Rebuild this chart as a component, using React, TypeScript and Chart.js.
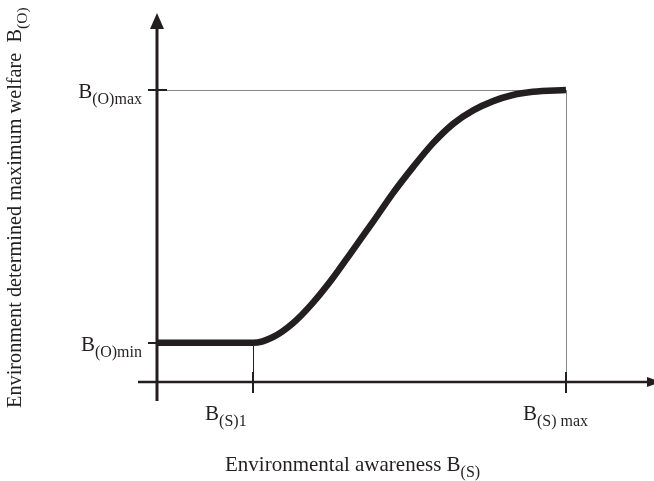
import React, { useEffect, useRef } from 'react';
import { Chart, registerables } from 'chart.js';

Chart.register(...registerables);

// ---- data (abstract units: B(S)max = 10, B(O)max = 10) ----
const curveX = [0, 2.35, 2.84, 3.33, 3.81, 4.3, 4.79, 5.28, 5.77, 6.26, 6.75, 7.24, 7.73, 8.22, 8.7, 9.19, 10];
const curveY = [1.34, 1.34, 1.54, 2.02, 2.71, 3.56, 4.52, 5.48, 6.47, 7.36, 8.18, 8.84, 9.3, 9.62, 9.83, 9.94, 10];

const xTickValues = [2.35, 10];
const xTickMain = ['B', 'B'];
const xTickSub = ['(S)1', '(S) max'];

const yTickValues = [1.34, 10];
const yTickMain = ['B', 'B'];
const yTickSub = ['(O)min', '(O)max'];

const xTitleMain = 'Environmental awareness B';
const xTitleSub = '(S)';
const yTitleMain = 'Environment determined maximum welfare  B';
const yTitleSub = '(O)';

// ---- styling / layout ----
const INK = '#231f20';
const GUIDE = '#858585';
const SERIF = '"Liberation Serif", "Times New Roman", serif';
const xTickLabelDx = [-48, -43];

function drawSub(
  ctx: CanvasRenderingContext2D,
  x: number,
  y: number,
  main: string,
  sub: string,
  align: 'left' | 'right',
  mainSize = 21,
  subSize = 16,
  drop = 6
) {
  const mf = `${mainSize}px ${SERIF}`;
  const sf = `${subSize}px ${SERIF}`;
  ctx.font = mf;
  const w1 = ctx.measureText(main).width;
  ctx.font = sf;
  const w2 = ctx.measureText(sub).width;
  const sx = align === 'right' ? x - w1 - w2 : x;
  ctx.textAlign = 'left';
  ctx.textBaseline = 'alphabetic';
  ctx.fillStyle = INK;
  ctx.font = mf;
  ctx.fillText(main, sx, y);
  ctx.font = sf;
  ctx.fillText(sub, sx + w1, y + drop);
}

const px = (v: number) => Math.round(v) + 0.5;

const diagramPlugin = {
  id: 'diagram',
  beforeDatasetsDraw(chart: any) {
    const ctx: CanvasRenderingContext2D = chart.ctx;
    const xs = chart.scales.x;
    const ys = chart.scales.y;
    const ox = xs.getPixelForValue(0);
    const oy = ys.getPixelForValue(0);
    const W = chart.width;
    ctx.save();

    // guide lines
    const xMaxPx = xs.getPixelForValue(xTickValues[1]);
    const x1Px = xs.getPixelForValue(xTickValues[0]);
    const yMaxPx = ys.getPixelForValue(yTickValues[1]);
    const yMinPx = ys.getPixelForValue(yTickValues[0]);
    ctx.lineWidth = 1;
    ctx.strokeStyle = GUIDE;
    ctx.beginPath();
    ctx.moveTo(ox, px(yMaxPx));
    ctx.lineTo(xMaxPx, px(yMaxPx));
    ctx.moveTo(px(xMaxPx), yMaxPx);
    ctx.lineTo(px(xMaxPx), oy - 10);
    ctx.stroke();
    ctx.strokeStyle = INK;
    ctx.beginPath();
    ctx.moveTo(px(x1Px), yMinPx);
    ctx.lineTo(px(x1Px), oy);
    ctx.stroke();

    // ticks
    ctx.lineWidth = 2;
    ctx.strokeStyle = INK;
    ctx.beginPath();
    xTickValues.forEach((v) => {
      const x = Math.round(xs.getPixelForValue(v));
      ctx.moveTo(x, oy - 10);
      ctx.lineTo(x, oy + 11);
    });
    yTickValues.forEach((v) => {
      const y = Math.round(ys.getPixelForValue(v));
      ctx.moveTo(ox - 9, y);
      ctx.lineTo(ox + 10, y);
    });
    ctx.stroke();

    // y axis
    ctx.lineWidth = 3;
    ctx.beginPath();
    ctx.moveTo(ox, oy + 19);
    ctx.lineTo(ox, 27);
    ctx.stroke();
    ctx.fillStyle = INK;
    ctx.beginPath();
    ctx.moveTo(ox, 13);
    ctx.lineTo(ox + 7, 29);
    ctx.lineTo(ox - 7, 29);
    ctx.closePath();
    ctx.fill();

    // x axis
    ctx.lineWidth = 2.5;
    ctx.beginPath();
    ctx.moveTo(ox - 19, oy);
    ctx.lineTo(W - 6, oy);
    ctx.stroke();
    ctx.beginPath();
    ctx.moveTo(W + 7, oy);
    ctx.lineTo(W - 7, oy - 5);
    ctx.lineTo(W - 7, oy + 5);
    ctx.closePath();
    ctx.fill();

    ctx.restore();
  },
  afterDraw(chart: any) {
    const ctx: CanvasRenderingContext2D = chart.ctx;
    const xs = chart.scales.x;
    const ys = chart.scales.y;
    const ox = xs.getPixelForValue(0);
    const oy = ys.getPixelForValue(0);
    ctx.save();

    // y tick labels
    yTickValues.forEach((v, i) => {
      const y = ys.getPixelForValue(v);
      drawSub(ctx, ox - 15, y + 8, yTickMain[i], yTickSub[i], 'right');
    });
    // x tick labels
    xTickValues.forEach((v, i) => {
      const x = xs.getPixelForValue(v);
      drawSub(ctx, x + xTickLabelDx[i], oy + 38, xTickMain[i], xTickSub[i], 'left');
    });

    // x title
    drawSub(ctx, 225, oy + 89, xTitleMain, xTitleSub, 'left');

    // y title
    ctx.save();
    ctx.translate(21, 408);
    ctx.rotate(-Math.PI / 2);
    drawSub(ctx, 0, 0, yTitleMain, yTitleSub, 'left', 20.3, 15.5, 6);
    ctx.restore();

    ctx.restore();
  },
};

export default function App() {
  const canvasRef = useRef<HTMLCanvasElement | null>(null);

  useEffect(() => {
    document.body.style.margin = '0';
    const canvas = canvasRef.current;
    if (!canvas) return;
    const chart = new Chart(canvas, {
      type: 'line',
      data: {
        datasets: [
          {
            data: curveX.map((x, i) => ({ x, y: curveY[i] })),
            borderColor: INK,
            borderWidth: 6.5,
            borderCapStyle: 'butt',
            borderJoinStyle: 'round',
            pointRadius: 0,
            fill: false,
            cubicInterpolationMode: 'monotone',
          },
        ],
      },
      options: {
        responsive: false,
        animation: false,
        devicePixelRatio: 1,
        layout: { padding: { left: 130, right: 0, top: 10, bottom: 71 } },
        scales: {
          x: { type: 'linear', display: false, min: -0.66, max: 12.152 },
          y: { type: 'linear', display: false, min: -0.959, max: 12.74 },
        },
        plugins: {
          legend: { display: false },
          tooltip: { enabled: false },
        },
      },
      plugins: [diagramPlugin],
    } as any);
    return () => chart.destroy();
  }, []);

  return (
    <div style={{ width: 654, height: 481, background: '#fff' }}>
      <canvas ref={canvasRef} width={654} height={481} style={{ display: 'block' }} />
    </div>
  );
}
